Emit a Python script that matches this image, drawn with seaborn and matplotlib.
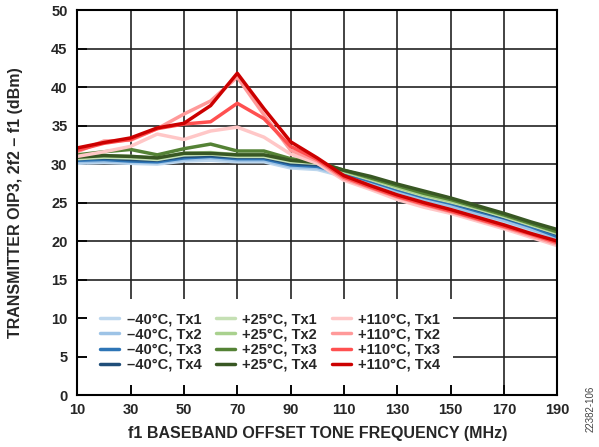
import matplotlib
matplotlib.use("Agg")
import matplotlib.pyplot as plt
import seaborn as sns
import pandas as pd

# f1 baseband offset tone frequency (MHz)
freq_mhz = [10, 20, 30, 40, 50, 60, 70, 80, 90, 100,
            110, 120, 130, 140, 150, 160, 170, 180, 190]

# OIP3 (dBm)
m40_tx1 = [30.1, 30.2, 30.1, 30.0, 30.4, 30.5, 30.3, 30.3, 29.5, 29.3,
           28.4, 27.4, 26.2, 25.1, 24.3, 23.4, 22.5, 21.3, 20.2]
m40_tx2 = [30.3, 30.4, 30.3, 30.2, 30.6, 30.8, 30.5, 30.5, 29.7, 29.5,
           28.6, 27.6, 26.5, 25.4, 24.6, 23.6, 22.7, 21.6, 20.4]
m40_tx3 = [30.5, 30.6, 30.4, 30.3, 30.8, 31.0, 30.7, 30.7, 29.9, 29.7,
           28.8, 27.8, 26.7, 25.7, 24.9, 23.9, 23.0, 21.9, 20.6]
m40_tx4 = [30.7, 30.8, 30.6, 30.5, 31.0, 31.1, 30.9, 30.9, 30.1, 29.9,
           29.0, 28.0, 26.9, 25.9, 25.1, 24.1, 23.1, 22.1, 20.9]

p25_tx1 = [30.7, 30.9, 30.8, 30.6, 31.2, 31.3, 31.0, 31.0, 30.3, 30.1,
           29.0, 28.0, 26.9, 25.9, 25.1, 24.2, 23.2, 22.1, 21.0]
p25_tx2 = [30.9, 31.1, 31.0, 30.8, 31.4, 31.5, 31.2, 31.2, 30.5, 30.2,
           29.1, 28.1, 27.0, 26.0, 25.2, 24.3, 23.3, 22.2, 21.1]
p25_tx3 = [31.2, 31.6, 31.9, 31.2, 32.0, 32.6, 31.7, 31.7, 30.7, 30.3,
           29.2, 28.2, 27.2, 26.2, 25.4, 24.4, 23.4, 22.3, 21.2]
p25_tx4 = [30.9, 31.1, 31.0, 30.8, 31.4, 31.4, 31.2, 31.2, 30.5, 30.2,
           29.2, 28.4, 27.4, 26.5, 25.6, 24.6, 23.6, 22.5, 21.5]

p110_tx1 = [31.0, 31.6, 32.3, 33.9, 33.2, 34.3, 34.8, 33.5, 31.3, 30.1,
            27.9, 26.7, 25.4, 24.4, 23.6, 22.6, 21.6, 20.5, 19.4]
p110_tx2 = [31.6, 33.0, 33.1, 34.6, 36.5, 38.2, 41.3, 36.4, 31.8, 30.4,
            28.1, 26.9, 25.7, 24.7, 23.8, 22.8, 21.8, 20.7, 19.6]
p110_tx3 = [31.8, 32.7, 33.2, 34.6, 35.2, 35.5, 37.9, 35.9, 32.3, 30.6,
            28.3, 27.0, 25.8, 24.8, 23.9, 22.9, 21.9, 20.9, 19.8]
p110_tx4 = [32.1, 32.8, 33.4, 34.7, 35.3, 37.6, 41.8, 37.2, 32.9, 30.8,
            28.5, 27.2, 26.0, 25.0, 24.1, 23.1, 22.1, 21.0, 20.0]

series_names = ["\u201340°C, Tx1", "\u201340°C, Tx2", "\u201340°C, Tx3", "\u201340°C, Tx4",
                "+25°C, Tx1", "+25°C, Tx2", "+25°C, Tx3", "+25°C, Tx4",
                "+110°C, Tx1", "+110°C, Tx2", "+110°C, Tx3", "+110°C, Tx4"]
series_values = [m40_tx1, m40_tx2, m40_tx3, m40_tx4,
                 p25_tx1, p25_tx2, p25_tx3, p25_tx4,
                 p110_tx1, p110_tx2, p110_tx3, p110_tx4]
colors = ["#bdd7ee", "#9dc3e6", "#2e75b6", "#1f4e79",
          "#c5e0b4", "#a9d18e", "#548235", "#385723",
          "#ffc7c7", "#ff9999", "#ff5050", "#cc0000"]

rows = []
for name, vals in zip(series_names, series_values):
    for f, v in zip(freq_mhz, vals):
        rows.append({"freq": f, "oip3": v, "series": name})
df = pd.DataFrame(rows)

sns.set_style("whitegrid")
plt.rcParams["font.family"] = ["Liberation Sans", "DejaVu Sans"]
plt.rcParams["font.weight"] = "bold"

fig = plt.figure(figsize=(5.99, 4.47), dpi=100)
ax = fig.add_axes([0.129, 0.1163, 0.8013, 0.861])

sns.lineplot(data=df, x="freq", y="oip3", hue="series", hue_order=series_names,
             palette=colors, linewidth=2.5, ax=ax)

ax.set_xlim(10, 190)
ax.set_ylim(0, 50)
ax.set_xticks(range(10, 191, 20))
ax.set_yticks(range(0, 51, 5))
ax.grid(True, color="#222222", linewidth=1.2)
for sp in ax.spines.values():
    sp.set_color("black")
    sp.set_linewidth(1.5)
ax.tick_params(axis="both", which="major", direction="in", length=7, width=1.2,
               color="black", labelsize=10.5, bottom=True, left=True)
ax.tick_params(axis="y", pad=7)
ax.tick_params(axis="x", pad=6)
for lbl in ax.get_xticklabels() + ax.get_yticklabels():
    lbl.set_fontweight("bold")

ax.set_xlabel("f1 BASEBAND OFFSET TONE FREQUENCY (MHz)", fontsize=11.5,
              fontweight="bold", labelpad=6)
ax.set_ylabel("TRANSMITTER OIP3, 2f2 \u2013 f1 (dBm)", fontsize=11.5,
              fontweight="bold", labelpad=20)

handles, labels = ax.get_legend_handles_labels()
leg = ax.legend(handles, labels, ncol=3, loc="lower left",
                bbox_to_anchor=(0.021, 0.026), borderaxespad=0,
                frameon=True, facecolor="white", edgecolor="none", framealpha=1,
                fancybox=False, prop={"size": 10.5, "weight": "bold"},
                handlelength=1.3, handletextpad=0.5, columnspacing=1.0,
                labelspacing=0.08, borderpad=0.9)
for line in leg.get_lines():
    line.set_linewidth(2.5)

fig.text(0.986, 0.085, "22382-106", rotation=90, fontsize=7,
         fontweight="normal", color="#444444", ha="center", va="center")

fig.savefig("out.png", dpi=100)
